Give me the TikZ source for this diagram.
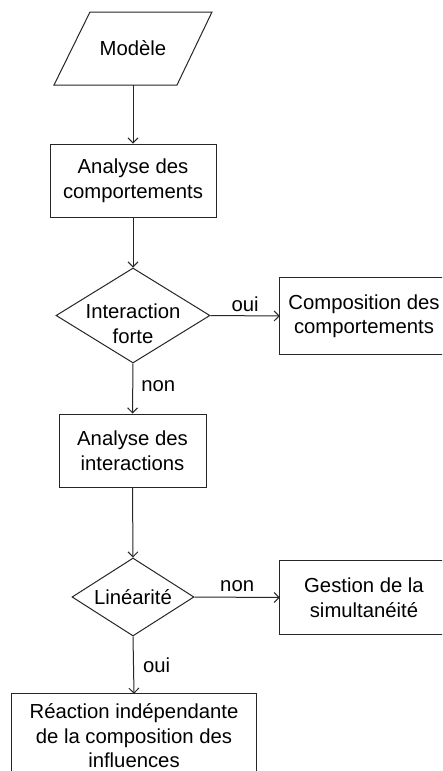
\documentclass[tikz,border=0pt]{standalone}
\usepackage{fontspec}
\setmainfont{Liberation Sans}
\usetikzlibrary{arrows.meta,shapes.geometric}
\begin{document}
\begin{tikzpicture}[x=1pt,y=-1pt,
  every node/.style={font=\fontsize{20.3}{24.5}\selectfont, align=center, text=black},
  ln/.style={draw=black!85, line width=1pt},
  arr/.style={ln, -{Straight Barb[length=5pt,width=10pt]}},
  boxnode/.style={ln, rectangle, inner sep=0pt},
  openbox/.style={rectangle, inner sep=0pt},
  decide/.style={ln, diamond, inner sep=0pt},
  lbl/.style={inner sep=0pt}
]
\useasboundingbox (0,0) rectangle (442,771);
\clip (0,0) rectangle (442,771);
\fill[white] (0,0) rectangle (442,771);

% Parallelogram "Modele"
\node[inner sep=0pt, minimum width=122pt, minimum height=73pt] (model) at (133,48.5) {Modèle};
\draw[ln] (90,12) -- (212,12) -- (177,85) -- (54,85) -- cycle;

\node[boxnode, minimum width=166pt, minimum height=73pt] (box1) at (133,180.5) {Analyse des\\comportements};

\node[decide, minimum width=154pt, minimum height=95pt,
  label={[yshift=-8pt, align=center]center:Interaction\\forte}] (d1) at (133,315.5) {};

% boxes cut off by the right edge of the picture
\node[openbox, minimum width=168pt, minimum height=76pt] (comp) at (364,316) {Composition des\\comportements};
\draw[ln] (comp.north west) rectangle ([xshift=40pt]comp.south east);

\node[boxnode, minimum width=147pt, minimum height=73pt] (box2) at (132.5,450.5) {Analyse des\\interactions};

\node[decide, minimum width=122pt, minimum height=78pt,
  label={[align=center]center:Linéarité}] (d2) at (133,597) {};

\node[openbox, minimum width=168pt, minimum height=73pt] (gest) at (364,597.5) {Gestion de la\\simultanéité};
\draw[ln] (gest.north west) rectangle ([xshift=40pt]gest.south east);

% box cut off by the bottom edge of the picture
\node[openbox, minimum width=244pt, minimum height=84pt] (reac) at (134,736) {Réaction indépendante\\de la composition des\\influences};
\draw[ln] ([yshift=-40pt]reac.south west) -- (reac.north west) -- (reac.north east) -- ([yshift=-40pt]reac.south east);

\draw[arr] (model.south) -- (box1.north);
\draw[arr] (box1.south) -- (d1.north);
\draw[arr] (d1.east) -- node[lbl, above=4pt] {oui} (comp.west);
\draw[arr] (d1.south) -- node[lbl, right=8pt, pos=0.45] {non} (box2.north);
\draw[arr] (box2.south) -- (d2.north);
\draw[arr] (d2.east) -- node[lbl, above=5pt] {non} (gest.west);
\draw[arr] (d2.south) -- node[lbl, right=9pt] {oui} (reac.north);
\end{tikzpicture}
\end{document}
